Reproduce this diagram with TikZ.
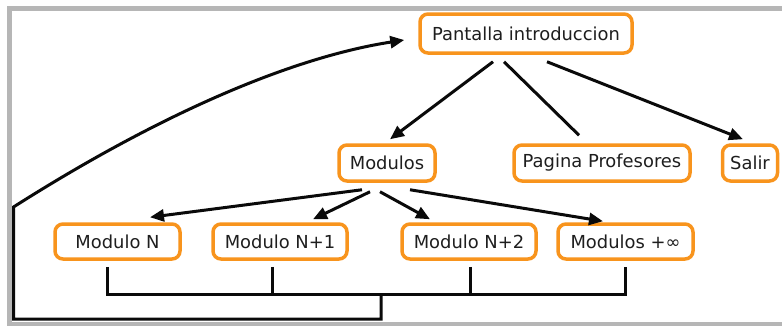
\documentclass[tikz,border=0pt]{standalone}
\usepackage{fontspec}
\setmainfont{DejaVu Sans}
\usetikzlibrary{arrows.meta,calc}

\definecolor{boxorange}{RGB}{248,148,29}
\definecolor{framegray}{RGB}{182,182,182}
\definecolor{inkblack}{RGB}{10,10,10}
\definecolor{textgray}{RGB}{30,30,30}

\tikzset{
  concept/.style={draw=boxorange, line width=3.5pt, rounded corners=8pt,
    fill=white, inner sep=0pt, text=textgray,
    font=\fontsize{17.9}{20}\selectfont},
  link/.style={draw=inkblack, line width=3pt},
  arr/.style={link, -{Triangle[length=14pt,width=12pt]}},
}

\begin{document}
\begin{tikzpicture}[x=1pt,y=-1pt]
\useasboundingbox (0,0) rectangle (782,325);

% outer frame, running off the right edge
\draw[framegray, line width=4.5pt] (9.5,8.5) rectangle (800,324.5);

% concepts
\node[concept, minimum width=212pt, minimum height=39pt] (pant) at (526,33.5) {Pantalla introduccion};
\node[concept, minimum width=96pt,  minimum height=36pt] (mods) at (387,163) {Modulos};
\node[concept, minimum width=176pt, minimum height=36pt] (prof) at (602,163) {Pagina Profesores};
\node[concept, minimum width=55pt,  minimum height=36pt] (salir) at (750,163) {Salir};
\node[concept, minimum width=125pt, minimum height=35pt] (m1) at (117.5,241.5) {Modulo N};
\node[concept, minimum width=134pt, minimum height=35pt] (m2) at (280,241.5) {Modulo N+1};
\node[concept, minimum width=134pt, minimum height=35pt] (m3) at (469,241.5) {Modulo N+2};
\node[concept, minimum width=135pt, minimum height=35pt] (m4) at (625.5,241.5) {Modulos +∞};

% top level links
\draw[arr]  ($(pant.south)+(-33,7)$) -- ($(mods.north)+(3,-4)$);
\draw[link] ($(pant.south)+(-22,7)$) -- ($(prof.north)+(-23,-8)$);
\draw[arr]  ($(pant.south)+(21,7)$)  -- ($(salir.north)+(-7,-4)$);

% module links
\draw[arr] ($(mods.south)+(-25,7)$) -- ($(m1.north)+(32.5,-5)$);
\draw[arr] ($(mods.south)+(-17,9)$) -- ($(m2.north)+(33,-3)$);
\draw[arr] ($(mods.south)+(-7,9)$)  -- ($(m3.north)+(-39,-3)$);
\draw[arr] ($(mods.south)+(23,7)$)  -- ($(m4.north)+(-22.5,-1)$);

% bracket joining the modules
\coordinate (b1) at ($(m1.south)+(-10.5,6)$);
\coordinate (b2) at ($(m2.south)+(-8,6)$);
\coordinate (b3) at ($(m3.south)+(1,6)$);
\coordinate (b4) at ($(m4.south)+(-0.5,6)$);
\coordinate (j) at (381,294);
\draw[link] (b1) -- (b1 |- j) -- (b4 |- j) -- (b4);
\draw[link] (b2) -- (b2 |- j);
\draw[link] (b3) -- (b3 |- j);

% return path to the intro screen
\coordinate (r1) at (381,319);
\coordinate (r2) at (13.5,319);
\coordinate (r3) at (13.5,207);
\draw[arr] (j) -- (r1) -- (r2) -- (r3)
  .. controls (163,112) and (294,57) .. ($(pant.west)+(-14,6.5)$);
\end{tikzpicture}
\end{document}
